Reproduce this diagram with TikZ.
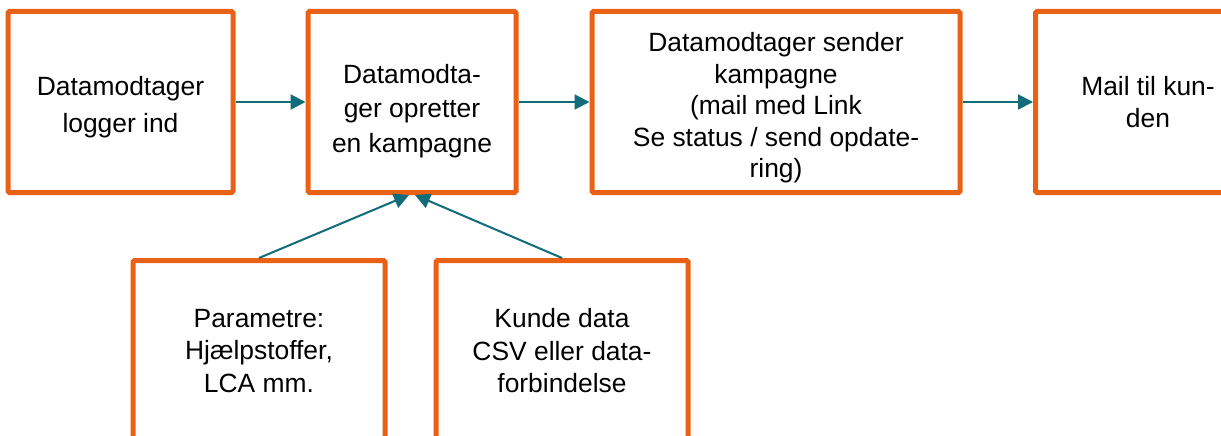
\documentclass[tikz,border=0pt]{standalone}
\usepackage{fontspec}
\setmainfont{Liberation Sans}
\usepackage{xcolor}
\usepackage{tikz}
\usetikzlibrary{arrows.meta}

\definecolor{boxorange}{RGB}{232,97,20}
\definecolor{flowteal}{RGB}{16,108,120}
\newcommand{\toplead}[1]{\rule{0pt}{#1}}

\begin{document}
\begin{tikzpicture}[x=1pt, y=-1pt, every node/.style={draw=boxorange, line width=5pt, fill=white, rounded corners=1.5pt, align=center, inner sep=0pt, minimum height=181pt}, lines/.style={font=\fontsize{26.4}{#1}\selectfont}, flow/.style={draw=flowteal, line width=2pt, -{Triangle[length=15pt,width=15pt]}}]
  \useasboundingbox (0,0) rectangle (1221,436);
  \clip (0,0) rectangle (1221,436);
  % top row
  \node[minimum width=225pt, lines=36.7pt] (login) at (120.5,102) {\toplead{30pt}Datamodtager\\logger ind};
  \node[minimum width=208pt, lines=34.5pt] (opret) at (412,102) {\toplead{36.5pt}Datamodta-\\ger opretter\\en kampagne};
  \node[minimum width=368pt, lines=31.5pt] (sender) at (776,102) {\toplead{31pt}Datamodtager sender\\kampagne\\(mail med Link\\Se status / send opdate-\\ring)};
  \node[minimum width=225pt, lines=32pt] (mail) at (1148,102) {Mail til kun-\\den};
  % inputs below
  \node[minimum width=252pt, lines=32.5pt] (param) at (259,351) {Parametre:\\Hjælpstoffer,\\LCA mm.};
  \node[minimum width=252pt, lines=32.5pt] (kunde) at (562,351) {Kunde data\\CSV eller data-\\forbindelse};
  \draw[flow] (login.east) -- (opret.west);
  \draw[flow] (opret.east) -- (sender.west);
  \draw[flow] (sender.east) -- (mail.west);
  \draw[flow] (param.north) -- ([xshift=-3pt]opret.south);
  \draw[flow] (kunde.north) -- ([xshift=3pt]opret.south);
\end{tikzpicture}
\end{document}
